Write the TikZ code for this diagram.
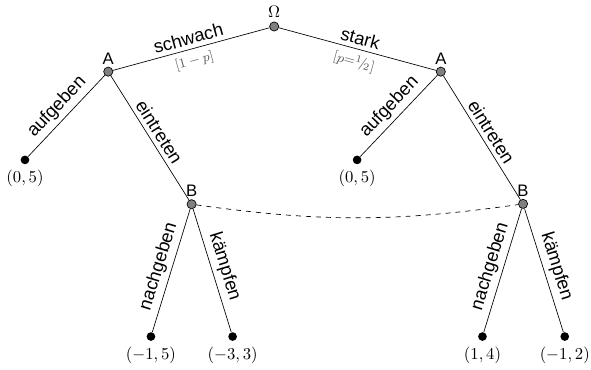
\documentclass[tikz,border=0pt]{standalone}
\usepackage{amsmath}
\usepackage{fontspec}
\setmainfont{Liberation Sans}
\usetikzlibrary{positioning}

\begin{document}
\begin{tikzpicture}[
    dec/.style={circle, draw, fill=gray, inner sep=0pt, minimum size=5.5pt},
    leaf/.style={circle, fill=black, inner sep=0pt, minimum size=5.2pt},
    move/.style={midway, sloped, above, font=\fontsize{11}{13}\selectfont, inner sep=2.5pt},
    prob/.style={midway, sloped, below, font=\footnotesize, text=black!65}]
    \useasboundingbox (0,0) rectangle (12.47,-7.80);

    % Nature
    \node[dec, label={[label distance=-1pt]above:$\Omega$}] (omega) at (5.785, -0.559) {};

    % Player A
    \node[dec, label={[label distance=-2pt]above:A}] (a1) at (2.284, -1.512) {};
    \node[dec, label={[label distance=-2pt]above:A}] (a2) at (9.301, -1.512) {};

    % Player B
    \node[dec, label={[label distance=-2pt]above:B}] (b1) at (4.043, -4.309) {};
    \node[dec, label={[label distance=-2pt]above:B}] (b2) at (11.036, -4.302) {};

    % Payoffs
    \node[leaf, label={below:$(0,5)$}] (l1) at (0.527, -3.374) {};
    \node[leaf, label={below:$(0,5)$}] (l2) at (7.535, -3.374) {};
    \node[leaf, label={below:$(-1,5)$}] (l3) at (3.185, -7.101) {};
    \node[leaf, label={below:$(-3,3)$}] (l4) at (4.908, -7.101) {};
    \node[leaf, label={below:$(1,4)$}] (l5) at (10.180, -7.101) {};
    \node[leaf, label={below:$(-1,2)$}] (l6) at (11.916, -7.101) {};

    % Moves of nature
    \draw (omega) -- (a1) node[move] {schwach} node[prob] {$[1-p]$};
    \draw (omega) -- (a2) node[move] {stark} node[prob] {$[p{=}{}^{1}\!/\!{}_{2}]$};

    % Moves of A
    \draw (a1) -- (l1) node[move] {aufgeben};
    \draw (a1) -- (b1) node[move] {eintreten};
    \draw (a2) -- (l2) node[move] {aufgeben};
    \draw (a2) -- (b2) node[move] {eintreten};

    % Moves of B
    \draw (b1) -- (l3) node[move] {nachgeben};
    \draw (b1) -- (l4) node[move] {kämpfen};
    \draw (b2) -- (l5) node[move] {nachgeben};
    \draw (b2) -- (l6) node[move] {kämpfen};

    % Information set
    \draw[dashed] (b1) to[bend right=8] (b2);
\end{tikzpicture}
\end{document}
